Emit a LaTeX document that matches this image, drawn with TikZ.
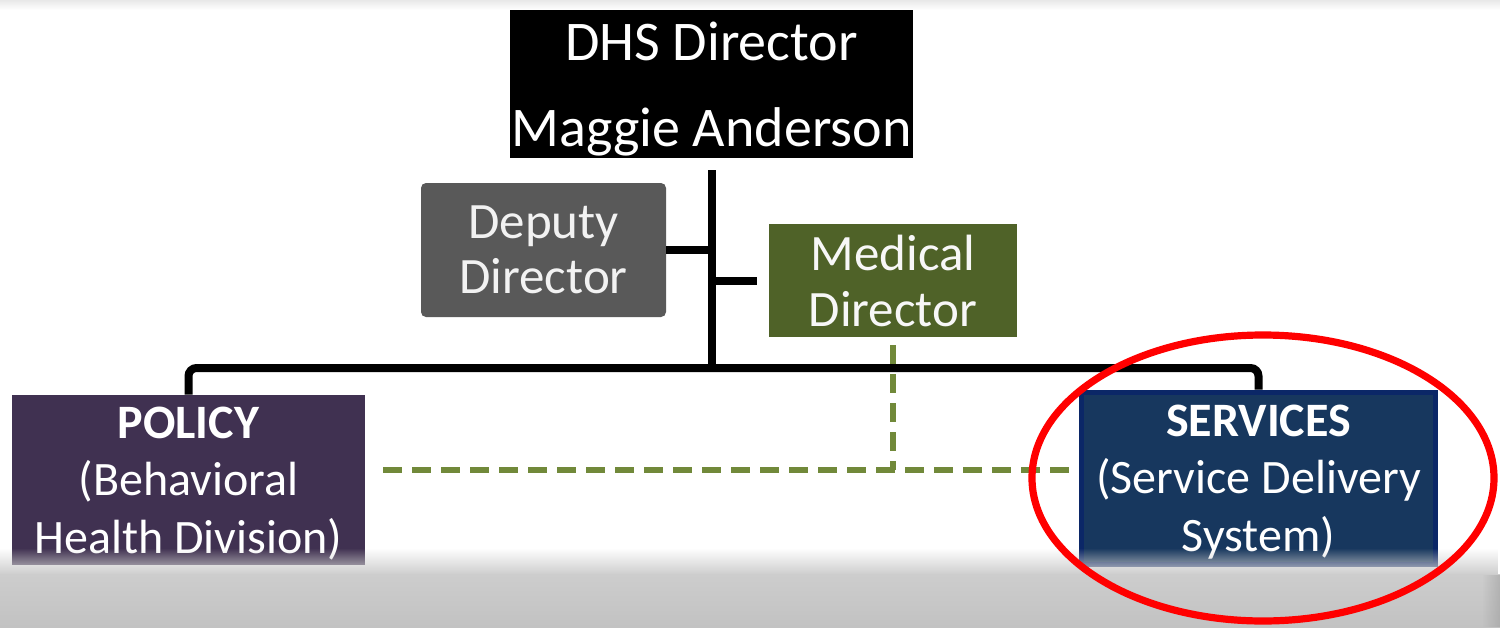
\documentclass[tikz,border=0pt]{standalone}
\usepackage{fontspec}
\setmainfont{Carlito}
\usetikzlibrary{fadings}
\tikzfading[name=bandfade, top color=transparent!100, bottom color=transparent!0]
\tikzfading[name=edgefade, left color=transparent!100, right color=transparent!0]
\definecolor{deputygray}{HTML}{595959}
\definecolor{medolive}{HTML}{4F6228}
\definecolor{policypurple}{HTML}{403151}
\definecolor{servnavy}{HTML}{17375E}
\definecolor{servedge}{HTML}{0B2767}
\definecolor{dashgreen}{HTML}{71893A}
\definecolor{bandgray}{HTML}{CDCDCD}
\definecolor{bandgraydark}{HTML}{C2C2C2}
\tikzset{
  orgbox/.style={rectangle, inner sep=0pt, align=center, text=white},
  orgline/.style={line width=4pt, black},
  dotlink/.style={line width=2.6pt, dashgreen, dash pattern=on 9.5pt off 5pt},
}
\begin{document}
\begin{tikzpicture}[x=0.5pt, y=-0.5pt]
\useasboundingbox (0,0) rectangle (1500,627);
\fill[white] (0,0) rectangle (1500,627);
% faint strip along the top edge
\shade[top color=black!9, bottom color=white] (0,0) rectangle (1500,10);

% boxes
\node[orgbox, fill=black, minimum width=201.5pt, minimum height=74pt,
      text depth=0pt, font=\fontsize{28}{43}\selectfont] (dhs) at (711.5,84)
      {DHS Director\\Maggie Anderson};
\node[orgbox, fill=deputygray, rounded corners=2.5pt, minimum width=122.5pt,
      minimum height=67pt, text=black!5, font=\fontsize{25.5}{27.5}\selectfont]
      (deputy) at (543.5,250) {Deputy\\Director};
\node[orgbox, fill=medolive, minimum width=124pt, minimum height=56.5pt,
      text=black!3, font=\fontsize{25.5}{28}\selectfont]
      (medical) at (893,280.5) {Medical\\Director};
\node[orgbox, fill=policypurple, minimum width=176.5pt, minimum height=85pt,
      text depth=0pt, font=\fontsize{24}{28.8}\selectfont] (policy) at (188.5,480)
      {\textbf{POLICY}\\(Behavioral\\Health Division)};
\node[orgbox, fill=servnavy, draw=servedge, line width=2.5pt,
      minimum width=177pt, minimum height=86pt, text depth=0pt,
      font=\fontsize{24}{28.8}\selectfont] (services) at (1258.5,478)
      {\textbf{SERVICES}\\(Service Delivery\\System)};

% reporting lines
\draw[orgline] ([yshift=-6pt]dhs.south) -- (dhs.south |- 0,368);
\draw[orgline] (deputy.east) -- (deputy.east -| dhs.south);
\draw[orgline] (dhs.south |- medical.west) -- ([xshift=-6pt]medical.west);
\draw[orgline, rounded corners=4pt]
  (policy.north) -- (policy.north |- 0,368) -- (services.north |- 0,368)
  -- (services.north);

% dotted-line relationship of the medical director
\coordinate (dashjoin) at (medical.south |- 0,470);
\draw[dotlink] ([yshift=-4pt]medical.south) -- (dashjoin);
\draw[dotlink] ([xshift=9pt]policy.east |- dashjoin) -- ([xshift=-3pt]services.west |- dashjoin);

% grey band along the bottom
\fill[bandgray, path fading=bandfade] (0,548) rectangle (1500,575);
\shade[top color=bandgray, bottom color=bandgraydark] (0,574) rectangle (1500,627);
\fill[black!40, path fading=edgefade, opacity=0.5] (1482,575) rectangle (1500,627);

% highlight
\draw[red, line width=3.6pt] (1263,478) ellipse [x radius=231, y radius=143];
\end{tikzpicture}
\end{document}
